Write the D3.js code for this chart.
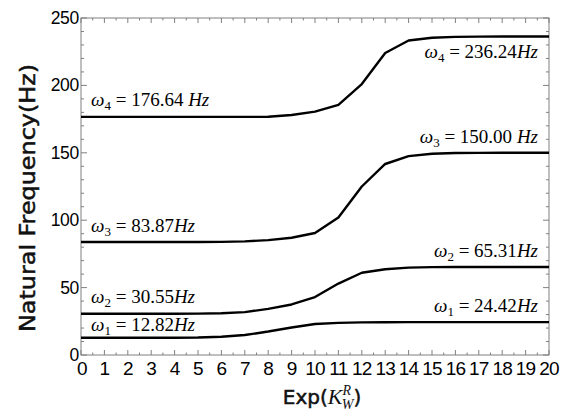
<!DOCTYPE html>
<html>
<head>
<meta charset="utf-8">
<script src="https://cdn.jsdelivr.net/npm/d3@7"></script>
<style>
body{margin:0;background:#fff}
.frame{fill:none;stroke:#808080;stroke-width:1}
.tickText{font-family:"Liberation Sans",Arial,sans-serif;fill:#000}
.curve{fill:none;stroke:#000;stroke-width:2.4;stroke-linejoin:round}
.lbl{font-family:"Liberation Serif","Times New Roman",serif;font-size:19px;fill:#000}
.title{font-family:"DejaVu Sans",sans-serif;font-weight:normal;fill:#111;stroke:#111;stroke-width:0.5}
</style>
</head>
<body>
<svg id="chart" width="568" height="414"></svg>
<script>
// Exp(K_W^R) sample points
var xs = [0,1,2,3,4,5,6,7,8,9,10,11,12,13,14,15,16,17,18,19,20]
// natural frequencies (Hz)
var omega1 = [12.82,12.82,12.82,12.83,12.85,12.95,13.5,14.8,17.4,20.4,23.0,23.8,24.2,24.35,24.4,24.42,24.42,24.42,24.42,24.42,24.42]
var omega2 = [30.55,30.55,30.56,30.57,30.6,30.7,31.0,31.8,34.2,37.5,43.0,53.0,61.0,63.6,64.8,65.2,65.3,65.31,65.31,65.31,65.31]
var omega3 = [83.87,83.87,83.87,83.87,83.87,83.88,83.95,84.3,85.2,87.0,90.5,102.0,125.0,141.7,147.5,149.3,149.8,149.95,150.0,150.0,150.0]
var omega4 = [176.64,176.64,176.64,176.64,176.64,176.64,176.64,176.64,176.7,178.0,180.5,185.5,201.0,224.0,233.3,235.3,236.0,236.2,236.24,236.24,236.24]
var modes = ["1","2","3","4"]
var startLabels = ["12.82","30.55","83.87","176.64 "]
var endLabels = ["24.42","65.31","150.00 ","236.24"]
var yTicks = [0,50,100,150,200,250]

var series = [omega1, omega2, omega3, omega4]

var svg = d3.select("#chart")
var L = 81, R = 549, T = 18, B = 355

var x = d3.scaleLinear().domain([0,20]).range([L,R])
var y = d3.scaleLinear().domain([0,250]).range([B,T])

// frame ticks, inward like the original
function ticks(sel, scale, vals, len, orient){
	sel.selectAll(null).data(vals).enter().append("line")
		.attr("stroke","#808080")
		.attr("x1", function(d){ return orient=="b"||orient=="t" ? scale(d) : (orient=="l" ? L : R) })
		.attr("x2", function(d){ return orient=="b"||orient=="t" ? scale(d) : (orient=="l" ? L+len : R-len) })
		.attr("y1", function(d){ return orient=="l"||orient=="r" ? scale(d) : (orient=="b" ? B : T) })
		.attr("y2", function(d){ return orient=="l"||orient=="r" ? scale(d) : (orient=="b" ? B-len : T+len) })
}
var g = svg.append("g")
var xMajor = d3.range(0,21,1), xMinor = d3.range(0.5,20,1)
var yMajor = yTicks, yMinor = d3.range(10,250,10).filter(function(d){ return d%50 })
ticks(g, x, xMajor, 5, "b"); ticks(g, x, xMinor, 2.5, "b")
ticks(g, x, xMajor, 5, "t"); ticks(g, x, xMinor, 2.5, "t")
ticks(g, y, yMajor, 6, "l"); ticks(g, y, yMinor, 3, "l")
ticks(g, y, yMajor, 6, "r"); ticks(g, y, yMinor, 3, "r")

svg.append("rect").attr("class","frame")
	.attr("x",L).attr("y",T).attr("width",R-L).attr("height",B-T)

// tick labels
svg.selectAll(".ylab").data(yTicks).enter().append("text")
	.attr("class","tickText").attr("font-size",17.5)
	.attr("x",L-2).attr("y",function(d){ return y(d)+6 })
	.attr("text-anchor","end").attr("letter-spacing",-0.3)
	.text(function(d){ return d })

svg.selectAll(".xlab").data(xMajor).enter().append("text")
	.attr("class","tickText").attr("font-size",19)
	.attr("x",function(d){ return x(d) + (d==0 ? 1 : 0) }).attr("y",B+20)
	.attr("text-anchor","middle").attr("letter-spacing",-0.8)
	.text(function(d){ return d })

// curves
var line = d3.line()
	.x(function(d,i){ return x(xs[i]) })
	.y(function(d){ return y(d) })

svg.selectAll(".curve").data(series).enter().append("path")
	.attr("class","curve")
	.attr("d", line)

// labels
function omegaLabel(sel, k, val){
	sel.append("tspan").attr("font-style","italic").text("\u03C9")
	sel.append("tspan").attr("font-size","13px").attr("dy",4).text(k)
	sel.append("tspan").attr("dy",-4).text(" = " + val)
	sel.append("tspan").attr("font-style","italic").text("Hz")
}
var startDy = [-7,-11,-10,-11]
var endDy = [-10,-10,-10,21]
modes.forEach(function(k,i){
	var t = svg.append("text").attr("class","lbl")
		.attr("x", x(0)+10)
		.attr("y", y(series[i][0]) + startDy[i])
	omegaLabel(t, k, startLabels[i])
	var e = svg.append("text").attr("class","lbl")
		.attr("text-anchor","end")
		.attr("x", x(20)-11)
		.attr("y", y(series[i][20]) + endDy[i])
	omegaLabel(e, k, endLabels[i])
})

// axis titles
svg.append("text").attr("class","title").attr("font-size",21)
	.attr("transform","translate(35,198) rotate(-90)")
	.attr("text-anchor","middle")
	.attr("textLength",268).attr("lengthAdjust","spacingAndGlyphs")
	.text("Natural Frequency(Hz)")

var xt = svg.append("text").attr("class","title").attr("font-size",20)
	.attr("x",322).attr("y",404).attr("text-anchor","middle")
xt.append("tspan").text("Exp(")
xt.append("tspan").attr("font-family","Liberation Serif,serif").attr("font-style","italic").attr("stroke-width",0).attr("font-size",22).text("K")
xt.append("tspan").attr("font-family","Liberation Serif,serif").attr("font-style","italic").attr("stroke-width",0).attr("font-size",14).attr("dy",-9).text("R")
xt.append("tspan").attr("font-family","Liberation Serif,serif").attr("font-style","italic").attr("stroke-width",0).attr("font-size",14).attr("dx",-9).attr("dy",14).text("W")
xt.append("tspan").attr("dy",-5).text(")")
</script>
</body>
</html>
